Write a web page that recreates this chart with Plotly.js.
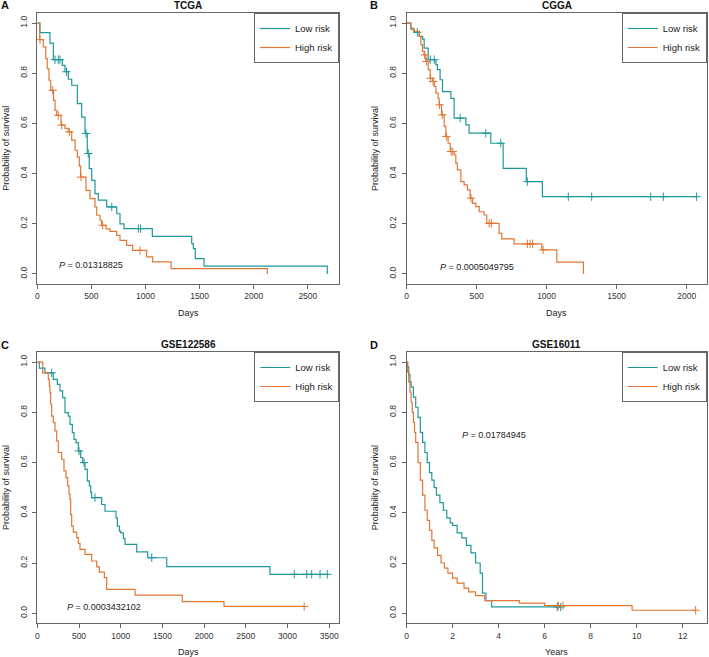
<!DOCTYPE html>
<html>
<head>
<meta charset="utf-8">
<script src="https://cdn.plot.ly/plotly-3.0.1.min.js"></script>
<style>html,body{margin:0;padding:0;background:#fff;}#chart{width:709px;height:657px;}</style>
</head>
<body>
<div id="chart"></div>
<script>
// ---------- Panel A : TCGA (days) ----------
var aLowT  = [0, 25, 117, 148, 231, 256, 287, 318, 370, 410, 441, 462, 480, 503, 533, 564, 641, 734, 764, 801, 1063, 1427, 1442, 1460, 1541, 2680];
var aLowS  = [1, 0.962, 0.92, 0.854, 0.831, 0.806, 0.776, 0.752, 0.679, 0.625, 0.56, 0.48, 0.42, 0.373, 0.32, 0.294, 0.267, 0.24, 0.20, 0.181, 0.15, 0.121, 0.101, 0.061, 0.031, 0];
var aLowCens = [164, 194, 210, 270, 450, 471, 688, 934, 955];
var aHighT = [0, 22, 55, 78, 92, 108, 124, 150, 164, 179, 219, 256, 285, 318, 349, 370, 388, 400, 450, 487, 533, 549, 580, 595, 635, 672, 734, 764, 826, 881, 1011, 1066, 1236, 2125];
var aHighS = [1, 0.934, 0.905, 0.858, 0.818, 0.772, 0.732, 0.692, 0.652, 0.632, 0.593, 0.58, 0.566, 0.533, 0.493, 0.466, 0.43, 0.386, 0.333, 0.30, 0.267, 0.234, 0.214, 0.194, 0.18, 0.17, 0.154, 0.134, 0.114, 0.094, 0.068, 0.048, 0.0215, 0];
var aHighCens = [25, 142, 194, 225, 296, 404, 604, 949];

// ---------- Panel B : CGGA (days) ----------
var bLowT  = [0, 31, 55, 91, 115, 126, 155, 210, 221, 240, 257, 317, 340, 424, 447, 602, 690, 855, 970, 2071];
var bLowS  = [1, 0.976, 0.963, 0.947, 0.936, 0.90, 0.854, 0.834, 0.814, 0.774, 0.727, 0.70, 0.621, 0.594, 0.561, 0.521, 0.421, 0.368, 0.308, 0.308];
var bLowCens = [77, 170, 198, 383, 566, 673, 863, 1155, 1322, 1743, 1833, 2071];
var bHighT = [0, 31, 50, 91, 103, 114, 126, 138, 155, 169, 186, 198, 210, 226, 233, 250, 269, 281, 297, 312, 340, 352, 363, 388, 411, 435, 454, 471, 495, 519, 554, 573, 661, 680, 768, 966, 1073, 1263];
var bHighS = [1, 0.98, 0.967, 0.947, 0.914, 0.887, 0.873, 0.847, 0.814, 0.78, 0.767, 0.747, 0.721, 0.70, 0.674, 0.634, 0.588, 0.548, 0.521, 0.488, 0.475, 0.442, 0.415, 0.368, 0.355, 0.335, 0.302, 0.282, 0.268, 0.248, 0.235, 0.202, 0.162, 0.14, 0.12, 0.096, 0.047, 0];
var bHighCens = [130, 142, 172, 190, 236, 255, 285, 318, 330, 460, 590, 606, 863, 882, 900, 975];

// ---------- Panel C : GSE122586 (days) ----------
var cLowT  = [0, 24, 92, 192, 240, 272, 304, 332, 372, 392, 420, 440, 464, 492, 520, 544, 572, 600, 624, 640, 652, 772, 812, 944, 960, 984, 1000, 1032, 1052, 1192, 1324, 1552, 2790, 3477];
var cLowS  = [1, 0.976, 0.957, 0.931, 0.911, 0.885, 0.858, 0.799, 0.785, 0.752, 0.719, 0.692, 0.679, 0.646, 0.62, 0.60, 0.573, 0.527, 0.507, 0.481, 0.46, 0.433, 0.406, 0.38, 0.347, 0.327, 0.32, 0.297, 0.274, 0.244, 0.221, 0.186, 0.155, 0.155];
var cLowCens = [172, 500, 560, 692, 1372, 3082, 3230, 3290, 3390, 3477];
var cHighT = [0, 65, 132, 144, 152, 160, 172, 192, 212, 232, 252, 292, 320, 344, 364, 380, 392, 400, 412, 432, 472, 492, 512, 572, 652, 712, 744, 804, 832, 1172, 1738, 2239, 3200];
var cHighS = [1, 0.957, 0.931, 0.905, 0.878, 0.832, 0.785, 0.759, 0.726, 0.686, 0.64, 0.613, 0.567, 0.54, 0.507, 0.474, 0.453, 0.393, 0.347, 0.323, 0.301, 0.278, 0.254, 0.234, 0.208, 0.185, 0.164, 0.142, 0.095, 0.072, 0.046, 0.027, 0.027];
var cHighCens = [3200];

// ---------- Panel D : GSE16011 (years) ----------
var dLowT  = [0, 0.05, 0.1, 0.15, 0.2, 0.3, 0.4, 0.5, 0.6, 0.7, 0.8, 0.9, 1.0, 1.1, 1.2, 1.3, 1.45, 1.6, 1.75, 1.9, 2.0, 2.2, 2.4, 2.6, 2.8, 3.0, 3.2, 3.3, 3.45, 3.7, 6.7];
var dLowS  = [1, 0.98, 0.95, 0.92, 0.9, 0.86, 0.82, 0.78, 0.72, 0.68, 0.64, 0.6, 0.56, 0.53, 0.5, 0.47, 0.44, 0.41, 0.38, 0.36, 0.35, 0.32, 0.3, 0.27, 0.24, 0.2, 0.16, 0.08, 0.05, 0.025, 0.025];
var dLowCens = [6.55, 6.7];
var dHighT = [0, 0.05, 0.1, 0.15, 0.2, 0.25, 0.3, 0.35, 0.4, 0.5, 0.6, 0.7, 0.8, 0.9, 1.0, 1.1, 1.2, 1.35, 1.5, 1.65, 1.8, 2.0, 2.2, 2.5, 2.7, 3.0, 3.4, 4.9, 6.0, 9.8, 12.56];
var dHighS = [1, 0.96, 0.92, 0.88, 0.84, 0.8, 0.76, 0.72, 0.68, 0.6, 0.53, 0.47, 0.41, 0.37, 0.33, 0.29, 0.26, 0.23, 0.2, 0.18, 0.16, 0.14, 0.12, 0.1, 0.085, 0.07, 0.05, 0.04, 0.03, 0.012, 0.012];
var dHighCens = [6.6, 6.8, 12.56];

// ---------- labels ----------
var panelTitles  = ["TCGA", "CGGA", "GSE122586", "GSE16011"];
var panelLetters = ["A", "B", "C", "D"];
var xTitles      = ["Days", "Days", "Days", "Years"];
var pValues      = ["0.01318825", "0.0005049795", "0.0003432102", "0.01784945"];
var pPos         = [[496, 0.035], [503, 0.029], [797, 0.023], [3.78, 0.71]];
var seriesNames  = ["Low risk", "High risk"];
var xTicks = [[0, 500, 1000, 1500, 2000, 2500], [0, 500, 1000, 1500, 2000],
              [0, 500, 1000, 1500, 2000, 2500, 3000, 3500], [0, 2, 4, 6, 8, 10, 12]];
var xMax = [2788, 2143, 3621, 13.04];
var yTicks = [0, 0.2, 0.4, 0.6, 0.8, 1.0];

var TEAL = "#1f989c", ORANGE = "#e07734";
var FONT = "Liberation Sans, Arial, Helvetica, sans-serif";

function stepAt(ts, ss, t) {
  var v = ss[0];
  for (var i = 0; i < ts.length; i++) { if (ts[i] <= t) v = ss[i]; }
  return v;
}

var panels = [
  {lt: aLowT, ls: aLowS, lc: aLowCens, ht: aHighT, hs: aHighS, hc: aHighCens},
  {lt: bLowT, ls: bLowS, lc: bLowCens, ht: bHighT, hs: bHighS, hc: bHighCens},
  {lt: cLowT, ls: cLowS, lc: cLowCens, ht: cHighT, hs: cHighS, hc: cHighCens},
  {lt: dLowT, ls: dLowS, lc: dLowCens, ht: dHighT, hs: dHighS, hc: dHighCens}
];

// pixel geometry of each plot box [left, top, right, bottom]
var W = 709, H = 657;
var boxes = [[37.3, 13, 339, 284], [406.5, 13, 706.7, 284], [37.3, 352, 339.3, 623.3], [406.5, 352, 706.7, 623.3]];

var data = [], layout = {
  width: W, height: H, margin: {l: 0, r: 0, t: 0, b: 0},
  paper_bgcolor: "#fff", plot_bgcolor: "#fff",
  font: {family: FONT, color: "#222"},
  showlegend: true, annotations: []
};

panels.forEach(function (p, i) {
  var n = i + 1, xa = "x" + (n === 1 ? "" : n), ya = "y" + (n === 1 ? "" : n);
  var lg = "legend" + (n === 1 ? "" : n);
  var b = boxes[i];
  var groups = [[p.lt, p.ls, p.lc, TEAL, seriesNames[0]], [p.ht, p.hs, p.hc, ORANGE, seriesNames[1]]];
  groups.forEach(function (g) {
    data.push({type: "scatter", mode: "lines", x: g[0], y: g[1], xaxis: xa, yaxis: ya,
      line: {shape: "hv", color: g[3], width: 1.2}, name: g[4], legend: lg, showlegend: true,
      hoverinfo: "skip"});
    data.push({type: "scatter", mode: "markers", x: g[2], y: g[2].map(function (t) { return stepAt(g[0], g[1], t); }),
      xaxis: xa, yaxis: ya, marker: {symbol: "cross-thin", size: 6, color: g[3], line: {color: g[3], width: 1}},
      showlegend: false, hoverinfo: "skip", legend: lg});
  });
  var axBase = {showline: true, mirror: true, linecolor: "#666", linewidth: 1, ticks: "outside",
    ticklen: 4, tickwidth: 1, tickcolor: "#666", showgrid: false, zeroline: false,
    tickfont: {family: FONT, size: 8.5, color: "#333"}};
  layout["xaxis" + (n === 1 ? "" : n)] = Object.assign({}, axBase, {
    domain: [b[0] / W, b[2] / W], anchor: ya, range: [0, xMax[i]], tickvals: xTicks[i]});
  layout["yaxis" + (n === 1 ? "" : n)] = Object.assign({}, axBase, {
    domain: [1 - b[3] / H, 1 - b[1] / H], anchor: xa, range: [-0.04, 1.04], tickvals: yTicks,
    ticktext: yTicks.map(function (v) { return v.toFixed(1); }), tickangle: -90, ticklabelstandoff: 2});
  layout[lg] = {x: b[2] / W, y: 1 - b[1] / H, xanchor: "right", yanchor: "top", xref: "paper", yref: "paper",
    bgcolor: "#fff", bordercolor: "#666", borderwidth: 1, font: {family: FONT, size: 9.5, color: "#222"},
    itemwidth: 30, tracegroupgap: 0};
  var cx = (b[0] + b[2]) / 2, cy = (b[1] + b[3]) / 2;
  layout.annotations.push(
    {text: "<b>" + panelTitles[i] + "</b>", xref: "paper", yref: "paper", x: cx / W, y: 1 - (b[1] - 7.5) / H,
     showarrow: false, font: {family: FONT, size: 10, color: "#111"}, xanchor: "center", yanchor: "middle"},
    {text: "<b>" + panelLetters[i] + "</b>", xref: "paper", yref: "paper", x: (b[0] - 32) / W, y: 1 - (b[1] - 7.5) / H,
     showarrow: false, font: {family: FONT, size: 11, color: "#111"}, xanchor: "center", yanchor: "middle"},
    {text: xTitles[i], xref: "paper", yref: "paper", x: cx / W, y: 1 - (b[3] + 28.5) / H,
     showarrow: false, font: {family: FONT, size: 9, color: "#222"}, xanchor: "center", yanchor: "middle"},
    {text: "Probability of survival", xref: "paper", yref: "paper", x: (b[0] - 32) / W, y: 1 - cy / H,
     textangle: -90, showarrow: false, font: {family: FONT, size: 9, color: "#222"}, xanchor: "center", yanchor: "middle"},
    {text: "<i>P</i> = " + pValues[i], xref: xa, yref: ya, x: pPos[i][0], y: pPos[i][1],
     showarrow: false, font: {family: FONT, size: 9, color: "#222"}, xanchor: "center", yanchor: "middle"}
  );
});

Plotly.newPlot("chart", data, layout, {staticPlot: true});
</script>
</body>
</html>
